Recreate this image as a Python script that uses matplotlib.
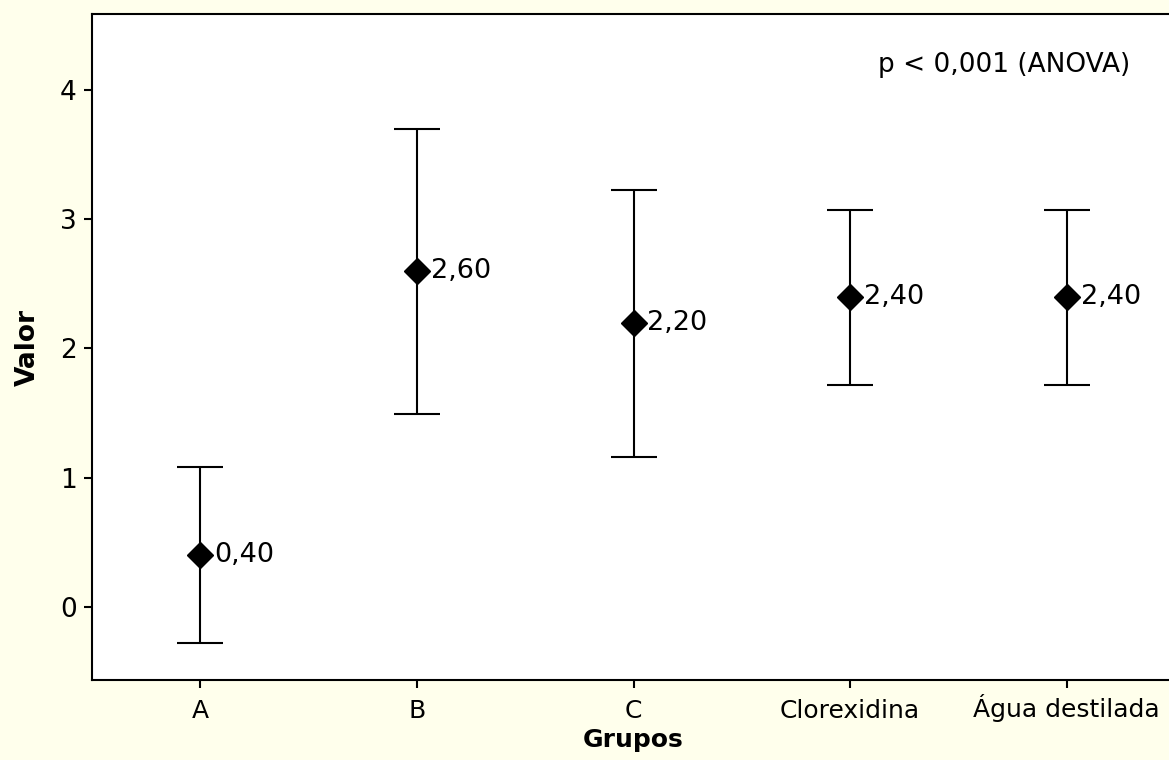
import matplotlib
matplotlib.use("Agg")
import matplotlib.pyplot as plt

groups = ["A", "B", "C", "Clorexidina", "Água destilada"]
means = [0.40, 2.60, 2.20, 2.40, 2.40]
lower = [-0.28, 1.49, 1.16, 1.72, 1.72]
upper = [1.08, 3.70, 3.23, 3.07, 3.07]
mean_labels = ["0,40", "2,60", "2,20", "2,40", "2,40"]
y_ticks = [0, 1, 2, 3, 4]

plt.rcParams["font.family"] = ["DejaVu Sans"]
plt.rcParams["font.size"] = 18

bg = "#FFFFEC"
fig = plt.figure(figsize=(11.69, 7.6), dpi=100, facecolor=bg)
ax = fig.add_axes([92 / 1169, 1 - 680 / 760, (1175 - 92) / 1169, (680 - 14) / 760])
ax.set_facecolor("white")

x = list(range(len(groups)))
err_low = [m - lo for m, lo in zip(means, lower)]
err_high = [hi - m for m, hi in zip(means, upper)]
ax.errorbar(x, means, yerr=[err_low, err_high], fmt="none", ecolor="black",
            elinewidth=1.5, capsize=16.5, capthick=1.5, zorder=2)
ax.plot(x, means, linestyle="none", marker="D", markersize=13.5,
        color="black", zorder=3)

for xi, m, lab in zip(x, means, mean_labels):
    ax.annotate(lab, (xi, m), xytext=(10, 0), textcoords="offset points",
                ha="left", va="center", fontsize=19.5)

ax.text(0.959, 0.923, "p < 0,001 (ANOVA)", transform=ax.transAxes,
        ha="right", va="center", fontsize=19)

ax.set_xlim(-0.5, 4.5)
ax.set_ylim(-0.565, 4.588)
ax.set_xticks(x)
ax.set_xticklabels(groups, va="baseline")
ax.set_yticks(y_ticks)
ax.set_yticklabels([str(t) for t in y_ticks])
ax.tick_params(direction="out", length=6, width=1.5, pad=5)
ax.tick_params(axis="x", pad=21)
ax.tick_params(axis="y", labelsize=19)

for side in ["left", "bottom", "top", "right"]:
    ax.spines[side].set_linewidth(1.5)

ax.set_xlabel("Grupos", fontweight="bold", fontsize=18, labelpad=4)
ax.set_ylabel("Valor", fontweight="bold", fontsize=19, labelpad=14)

fig.savefig("out.png", dpi=100, facecolor=bg)
